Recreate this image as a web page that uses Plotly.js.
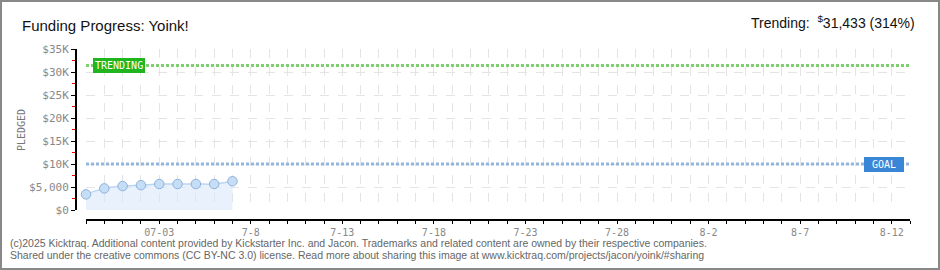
<!DOCTYPE html>
<html><head><meta charset="utf-8">
<script src="https://cdn.plot.ly/plotly-3.0.1.min.js"></script>
<style>
html,body{margin:0;padding:0;background:#fff;}
#wrap{position:relative;width:940px;height:270px;}
#chart{width:940px;height:270px;}
#frame{position:absolute;left:0;top:0;width:936px;height:266px;border:2px solid #888;pointer-events:none;}
</style></head>
<body><div id="wrap"><div id="chart"></div><div id="frame"></div></div>
<script>
const dates = ["2025-06-29","2025-06-30","2025-07-01","2025-07-02","2025-07-03","2025-07-04","2025-07-05","2025-07-06","2025-07-07"];
const pledged = [3400, 4700, 5200, 5400, 5650, 5650, 5650, 5650, 6250];
const goal = 10000;
const trending = 31433;
const xTickVals = ["2025-07-03","2025-07-08","2025-07-13","2025-07-18","2025-07-23","2025-07-28","2025-08-02","2025-08-07","2025-08-12"];
const xTickText = ["07-03","7-8","7-13","7-18","7-23","7-28","8-2","8-7","8-12"];
const yTickVals = [0,5000,10000,15000,20000,25000,30000,35000];
const yTickText = ["$0","$5,000","$10K","$15K","$20K","$25K","$30K","$35K"];
const xStart = "2025-06-29", xEnd = "2025-08-13";
const footer1 = "(c)2025 Kicktraq. Additional content provided by Kickstarter Inc. and Jacon. Trademarks and related content are owned by their respective companies.";
const footer2 = "Shared under the creative commons (CC BY-NC 3.0) license. Read more about sharing this image at www.kicktraq.com/projects/jacon/yoink/#sharing";

const pxFont = "DejaVu Sans Mono, monospace";
const thinFont = "Liberation Sans Narrow, Liberation Sans, sans-serif";
const traces = [
  {x:[xStart,xEnd], y:[trending,trending], mode:'lines', line:{color:'#7fcf70', width:3, dash:'3px,2px'}, hoverinfo:'skip'},
  {x:[xStart,xEnd], y:[goal,goal], mode:'lines', line:{color:'#93b6de', width:3, dash:'3px,2px'}, hoverinfo:'skip'},
  {x:dates, y:pledged, mode:'lines+markers', fill:'tozeroy', fillcolor:'rgba(214,230,250,0.55)', cliponaxis:false,
   line:{color:'#bcd6f2', width:1.5, shape:'spline'},
   marker:{size:9.5, color:'#c6ddf6', line:{color:'#8eb2dc', width:1}}}
];
const layout = {
  width:940, height:270, showlegend:false,
  paper_bgcolor:'#fff', plot_bgcolor:'#fff',
  margin:{l:76, r:30, t:49, b:50},
  xaxis:{type:'date', range:[xStart,xEnd], domain:[10/834,1], anchor:'free', position:0,
    tickvals:xTickVals, ticktext:xTickText, ticks:'outside', ticklen:3, tickcolor:'#000',
    showline:true, linecolor:'#000', linewidth:2,
    showgrid:true, gridcolor:'#e4e4e4', griddash:'dash', gridwidth:1,
    minor:{dtick:86400000, tick0:xStart, ticks:'outside', ticklen:3, tickcolor:'#000', showgrid:true, gridcolor:'#e4e4e4', griddash:'dash'},
    tickfont:{family:pxFont, size:10, color:'#888'}, zeroline:false, fixedrange:true},
  yaxis:{range:[0,35000], domain:[10/171,1], anchor:'free', position:0,
    tickvals:yTickVals, ticktext:yTickText, ticks:'outside', ticklen:4, tickcolor:'#000',
    showline:true, linecolor:'#000', linewidth:2,
    showgrid:true, gridcolor:'#e4e4e4', griddash:'dash', gridwidth:1,
    minor:{dtick:2500, tick0:2500, ticks:'outside', ticklen:3, tickcolor:'#e00', showgrid:false},
    tickfont:{family:pxFont, size:11, color:'#888'}, zeroline:false},
  annotations:[
    {xref:'paper', yref:'paper', x:(21-76)/834, y:(220-130)/171, xanchor:'center', yanchor:'middle', showarrow:false, textangle:-90,
     text:'PLEDGED', font:{family:pxFont, size:10, color:'#777'}},
    {xref:'paper', yref:'paper', x:(20-76)/834, y:1+(49-25)/171, xanchor:'left', yanchor:'middle', showarrow:false,
     text:'Funding Progress: Yoink!', font:{family:thinFont, size:15, color:'#111'}},
    {xref:'paper', yref:'paper', x:(917-76)/834, y:1+(49-22)/171, xanchor:'right', yanchor:'middle', showarrow:false,
     text:'Trending:  <sup>$</sup>31,433 (314%)', font:{family:thinFont, size:14, color:'#111'}},
    {xref:'x', yref:'y', x:'2025-06-29', y:trending, xanchor:'left', yanchor:'middle', xshift:7, showarrow:false,
     text:'TRENDING', bgcolor:'#1fb51f', bordercolor:'#1fb51f', borderpad:1,
     font:{family:pxFont, size:10, color:'#fff'}},
    {xref:'x', yref:'y', x:xEnd, y:goal, xanchor:'right', yanchor:'middle', xshift:-6, showarrow:false,
     text:' GOAL ', bgcolor:'#3a86d6', bordercolor:'#3a86d6', borderpad:1,
     font:{family:pxFont, size:10, color:'#fff'}},
    {xref:'paper', yref:'paper', x:(8-76)/834, y:-(243-220)/171, xanchor:'left', yanchor:'middle', showarrow:false, align:'left',
     text:footer1, font:{family:'Liberation Sans, sans-serif', size:10.5, color:'#666'}},
    {xref:'paper', yref:'paper', x:(8-76)/834, y:-(255-220)/171, xanchor:'left', yanchor:'middle', showarrow:false, align:'left',
     text:footer2, font:{family:'Liberation Sans, sans-serif', size:10.5, color:'#666'}}
  ]
};
Plotly.newPlot('chart', traces, layout, {displayModeBar:false, staticPlot:true});
</script></body></html>
